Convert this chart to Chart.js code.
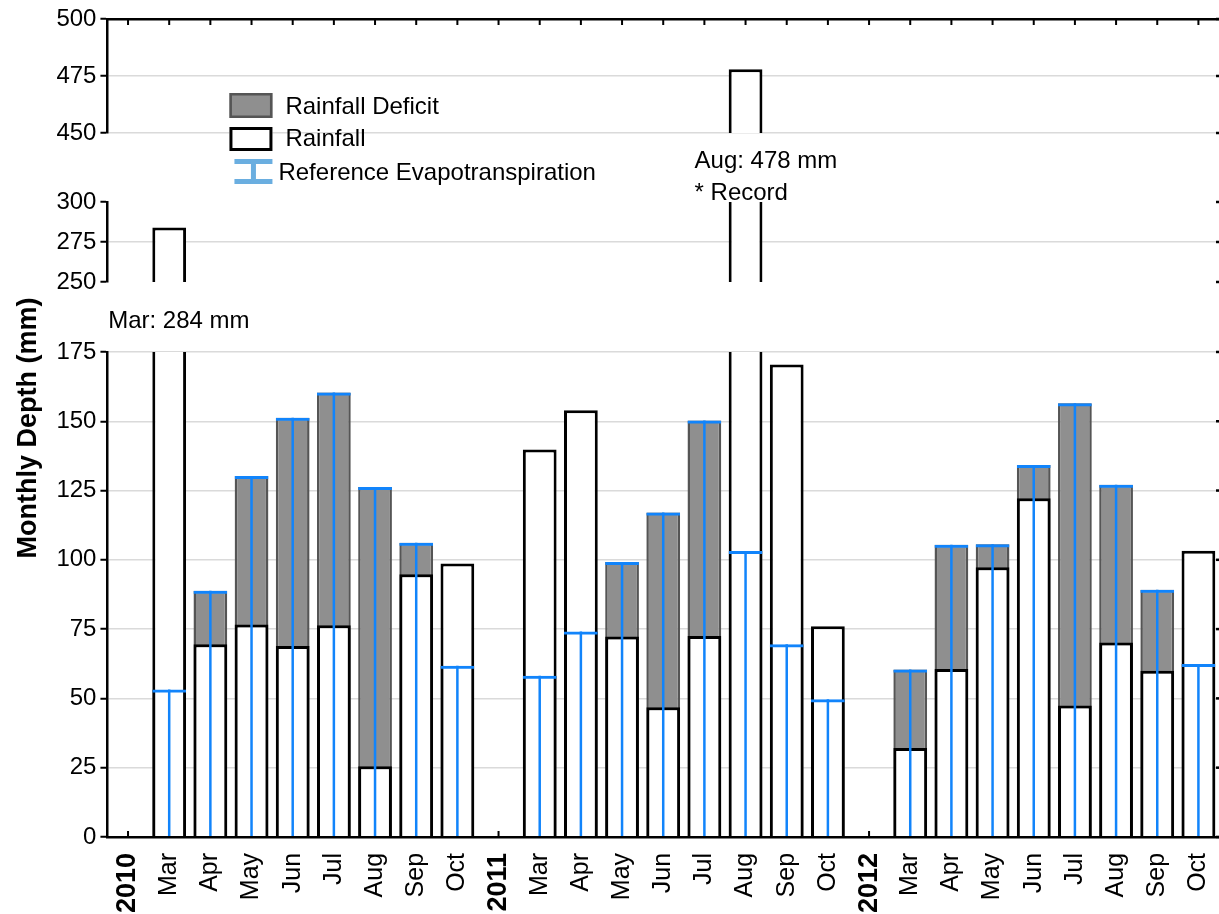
<!DOCTYPE html>
<html>
<head>
<meta charset="utf-8">
<script src="https://cdn.jsdelivr.net/npm/chart.js@4.4.1/dist/chart.umd.min.js"></script>
<style>
  html, body { margin: 0; padding: 0; background: #fff; }
  #wrap { position: relative; width: 1219px; height: 914px; }
</style>
</head>
<body>
<div id="wrap"><canvas id="c"></canvas></div>
<script>
// ---------- data ----------
const categories = ['2010','Mar','Apr','May','Jun','Jul','Aug','Sep','Oct',
                    '2011','Mar','Apr','May','Jun','Jul','Aug','Sep','Oct',
                    '2012','Mar','Apr','May','Jun','Jul','Aug','Sep','Oct'];
const rainfall = [null, 284, 69.5, 76.7, 68.9, 76.4, 25.5, 94.8, 98.7,
                  null, 139.8, 154.0, 72.3, 46.8, 72.5, 478, 170.5, 76.0,
                  null, 32.1, 60.6, 97.3, 122.2, 47.4, 70.2, 60.0, 103.3];
const refET = [null, 53.2, 88.8, 130.2, 151.3, 160.4, 126.3, 106.2, 61.8,
               null, 58.2, 74.1, 99.2, 117.1, 150.3, 103.2, 69.5, 49.7,
               null, 60.4, 105.4, 105.6, 134.2, 156.5, 127.1, 89.2, 62.4];
const rangeBottom = [0, 175];
const rangeMiddle = [250, 300];
const rangeTop = [450, 500];
const tickStep = 25;
const legendLabels = ['Rainfall Deficit', 'Rainfall', 'Reference Evapotranspiration'];
const noteMar = 'Mar: 284 mm';
const noteAug = ['Aug: 478 mm', '* Record'];
const axisTitle = 'Monthly Depth (mm)';

// ---------- styles ----------
const FONT = "'Liberation Sans', Arial, Helvetica, sans-serif";
Chart.defaults.font.family = FONT;
Chart.defaults.font.size = 24;
Chart.defaults.color = '#000';

const BLUE = '#1184fb';
const LEGEND_BLUE = '#6aaee0';
const GRAY = '#8f8f8f';
const GRAY_EDGE = '#555555';
const GRID = '#dadada';
const isYear = (i) => /^\d{4}$/.test(categories[i] || '');

function segAxis(range, weight, stackWeight, hideGridAt) {
  return {
    type: 'linear', position: 'left', stack: 'depth', stackWeight: stackWeight, weight: weight,
    min: range[0], max: range[1], stacked: false, clip: true,
    ticks: { stepSize: tickStep, autoSkip: false, padding: 4, font: { size: 24 }, color: '#000' },
    grid: {
      color: (c) => (c.tick && hideGridAt.indexOf(c.tick.value) >= 0) ? 'rgba(0,0,0,0)' : GRID,
      lineWidth: 1.5, tickLength: 7, tickColor: '#000', tickWidth: 2
    },
    border: { display: true, color: '#000', width: 2.5 }
  };
}
function gapAxis(weight, stackWeight) {
  return {
    type: 'linear', position: 'left', stack: 'depth', stackWeight: stackWeight, weight: weight,
    min: 0, max: 1, clip: true,
    ticks: { display: false },
    grid: { display: false, drawTicks: false },
    border: { display: false }
  };
}

const common = { grouped: false, categoryPercentage: 0.82, barPercentage: 1.0, clip: 0 };
const rainStyle = { backgroundColor: '#ffffff', borderColor: '#000000', borderWidth: 3, order: 3 };

const decor = {
  id: 'decor',
  beforeDatasetsDraw(chart) {
    const { ctx, chartArea: a, scales } = chart;
    const xs = scales.x;
    ctx.save();
    ctx.strokeStyle = '#000';
    ctx.lineWidth = 2;
    xs.ticks.forEach((t, i) => {
      const px = xs.getPixelForTick(i);
      ctx.beginPath();
      ctx.moveTo(px, a.top); ctx.lineTo(px, a.top + 6);
      ctx.moveTo(px, a.bottom); ctx.lineTo(px, a.bottom - 6);
      ctx.stroke();
    });
    ctx.fillStyle = '#000';
    ['yTop', 'yMid', 'y'].forEach((id) => {
      const s = scales[id];
      s.ticks.forEach((t) => {
        const py = s.getPixelForValue(t.value);
        ctx.fillRect(a.right - 3, py - 1.25, 3, 2.5);
      });
    });
    ctx.restore();
  },
  afterDraw(chart) {
    const { ctx, chartArea: a, scales } = chart;
    ctx.save();
    ctx.font = '24px ' + FONT;
    ctx.textAlign = 'left';
    ctx.textBaseline = 'alphabetic';
    const lx = a.left + 122, ly = a.top + 74;
    // Rainfall Deficit swatch
    ctx.fillStyle = GRAY; ctx.fillRect(lx, ly, 43, 25);
    ctx.strokeStyle = GRAY_EDGE; ctx.lineWidth = 2.5; ctx.strokeRect(lx + 1.25, ly + 1.25, 40.5, 22.5);
    // Rainfall swatch
    ctx.fillStyle = '#fff'; ctx.fillRect(lx, ly + 34, 43, 24);
    ctx.strokeStyle = '#000'; ctx.lineWidth = 3; ctx.strokeRect(lx + 1.5, ly + 35.5, 40, 21);
    // Reference ET swatch (I-beam)
    ctx.fillStyle = LEGEND_BLUE;
    ctx.fillRect(lx + 5, ly + 66, 38, 5);
    ctx.fillRect(lx + 5, ly + 86, 38, 5);
    ctx.fillRect(lx + 21.5, ly + 66, 5, 25);
    ctx.fillStyle = '#000';
    ctx.fillText(legendLabels[0], lx + 56, ly + 21);
    ctx.fillText(legendLabels[1], lx + 56, ly + 53);
    ctx.fillText(legendLabels[2], lx + 49, ly + 87);
    // annotations
    const xs = scales.x, g1 = scales.yGap1, g2 = scales.yGap2;
    ctx.fillText(noteMar, xs.getPixelForValue(1) - 61, g2.bottom - 24);
    ctx.fillText(noteAug[0], xs.getPixelForValue(15) - 51, g1.top + 35);
    ctx.fillText(noteAug[1], xs.getPixelForValue(15) - 51, g1.top + 67);
    ctx.restore();
  }
};

new Chart(document.getElementById('c'), {
  type: 'bar',
  data: {
    labels: categories,
    datasets: [
      Object.assign({}, common, { label: 'Reference Evapotranspiration', data: refET, yAxisID: 'y',
        backgroundColor: 'rgba(0,0,0,0)', borderColor: BLUE,
        borderWidth: { top: 3, right: 0, bottom: 0, left: 0 }, borderSkipped: false, order: 1 }),
      Object.assign({}, common, { label: 'Reference Evapotranspiration', data: refET, yAxisID: 'y',
        backgroundColor: BLUE, borderWidth: 0, maxBarThickness: 2.5, order: 2 }),
      Object.assign({}, common, rainStyle, { label: 'Rainfall', data: rainfall, yAxisID: 'y' }),
      Object.assign({}, common, rainStyle, { label: 'Rainfall', data: rainfall, yAxisID: 'yMid' }),
      Object.assign({}, common, rainStyle, { label: 'Rainfall', data: rainfall, yAxisID: 'yTop' }),
      Object.assign({}, common, { label: 'Rainfall Deficit', data: refET, yAxisID: 'y',
        backgroundColor: GRAY, borderColor: GRAY_EDGE, borderWidth: 2.5, order: 4 })
    ]
  },
  options: {
    responsive: true,
    maintainAspectRatio: false,
    animation: false,
    layout: { padding: { left: 0, top: 19, right: 0, bottom: 1 } },
    plugins: { legend: { display: false }, tooltip: { enabled: false } },
    scales: {
      x: {
        type: 'category', position: 'bottom', offset: true, clip: true,
        grid: { drawOnChartArea: false, tickLength: 16, tickColor: 'rgba(0,0,0,0)' },
        border: { display: true, color: '#000', width: 2.5, z: 1 },
        ticks: {
          autoSkip: false, maxRotation: 90, minRotation: 90, padding: 0, color: '#000',
          font: (c) => isYear(c.index) ? { size: 27, weight: 'bold', lineHeight: 0.8 } : { size: 25, lineHeight: 0.8 }
        }
      },
      x2: {
        type: 'category', labels: categories, position: 'top', offset: true,
        grid: { drawOnChartArea: false, drawTicks: false },
        border: { display: true, color: '#000', width: 2.5, z: 1 },
        ticks: { display: false }
      },
      yTitle: {
        type: 'linear', position: 'left', weight: 10, min: 0, max: 1,
        ticks: { display: false },
        grid: { display: false, drawTicks: false },
        border: { display: false },
        title: { display: true, text: axisTitle, color: '#000',
          font: { size: 27, weight: 'bold' }, padding: { top: 12, bottom: 8 } }
      },
      yTop: segAxis(rangeTop, 5, 114, []),
      yGap1: gapAxis(4, 69),
      yMid: segAxis(rangeMiddle, 3, 80, [250, 300]),
      yGap2: gapAxis(2, 70),
      y: segAxis(rangeBottom, 1, 485, [])
    }
  },
  plugins: [decor]
});
</script>
</body>
</html>
